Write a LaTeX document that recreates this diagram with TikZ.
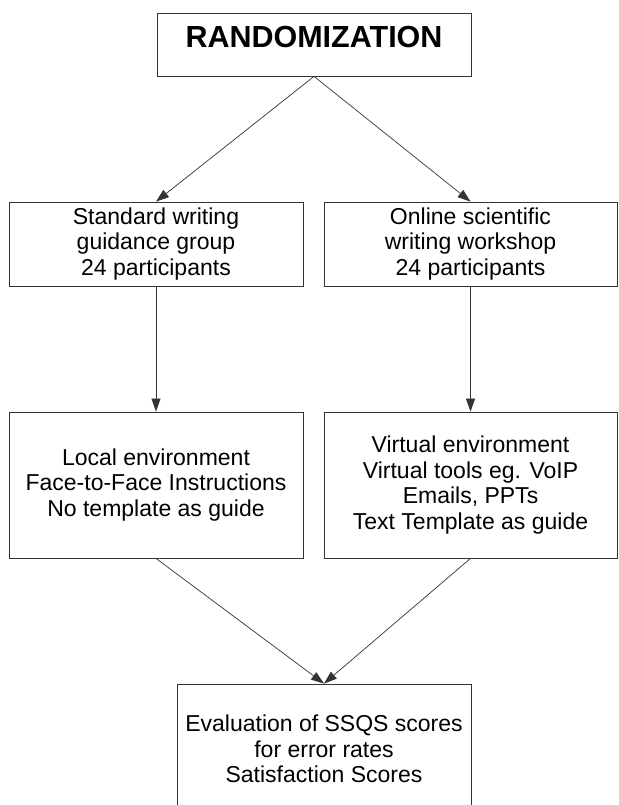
\documentclass[tikz,border=0pt]{standalone}
\usepackage{fontspec}
\setmainfont{Liberation Sans}
\usepackage{tikz}
\usetikzlibrary{arrows.meta}
\definecolor{linegray}{rgb}{0.2,0.2,0.2}

\begin{document}
\begin{tikzpicture}[x=1pt,y=-1pt,
		box/.style={draw=linegray, line width=0.8pt, inner sep=0pt, align=center,
			font=\fontsize{23}{25.5}\selectfont},
		flow/.style={draw=linegray, line width=0.7pt,
			arrows=-{Triangle[length=13pt,width=9pt]}}]
			%Config
			\useasboundingbox (0,0) rectangle (618,805);
			
			%Topo
			\node[box, minimum width=314pt, minimum height=63pt, text height=25pt, text depth=18pt,
				font=\fontsize{30.5}{32}\selectfont\bfseries] (rand) at (314,44.5) {RANDOMIZATION};
			
			%Grupos
			\node[box, minimum width=294pt, minimum height=84pt] (std) at (156,244)
				{Standard writing\\guidance group\\24 participants};
			\node[box, minimum width=293pt, minimum height=84pt] (onl) at (470.5,244)
				{Online scientific\\writing workshop\\24 participants};
			
			%Ambientes
			\node[box, minimum width=294pt, minimum height=146pt] (loc) at (156,485)
				{Local environment\\Face-to-Face Instructions\\No template as guide};
			\node[box, minimum width=293pt, minimum height=146pt] (virt) at (470.5,485)
				{Virtual environment\\Virtual tools eg. VoIP\\Emails, PPTs\\Text Template as guide};
			
			%Avaliacao
			\node[box, minimum width=294pt, minimum height=130pt] (eval) at (324,749)
				{Evaluation of SSQS scores\\for error rates\\Satisfaction Scores};
			
			%Setas
			\draw[flow] (rand.south) -- (std.north);
			\draw[flow] (rand.south) -- (onl.north);
			\draw[flow] (std.south) -- (loc.north);
			\draw[flow] (onl.south) -- (virt.north);
			\draw[flow] (loc.south) -- (eval.north);
			\draw[flow] (virt.south) -- (eval.north);
		\end{tikzpicture}
\end{document}
